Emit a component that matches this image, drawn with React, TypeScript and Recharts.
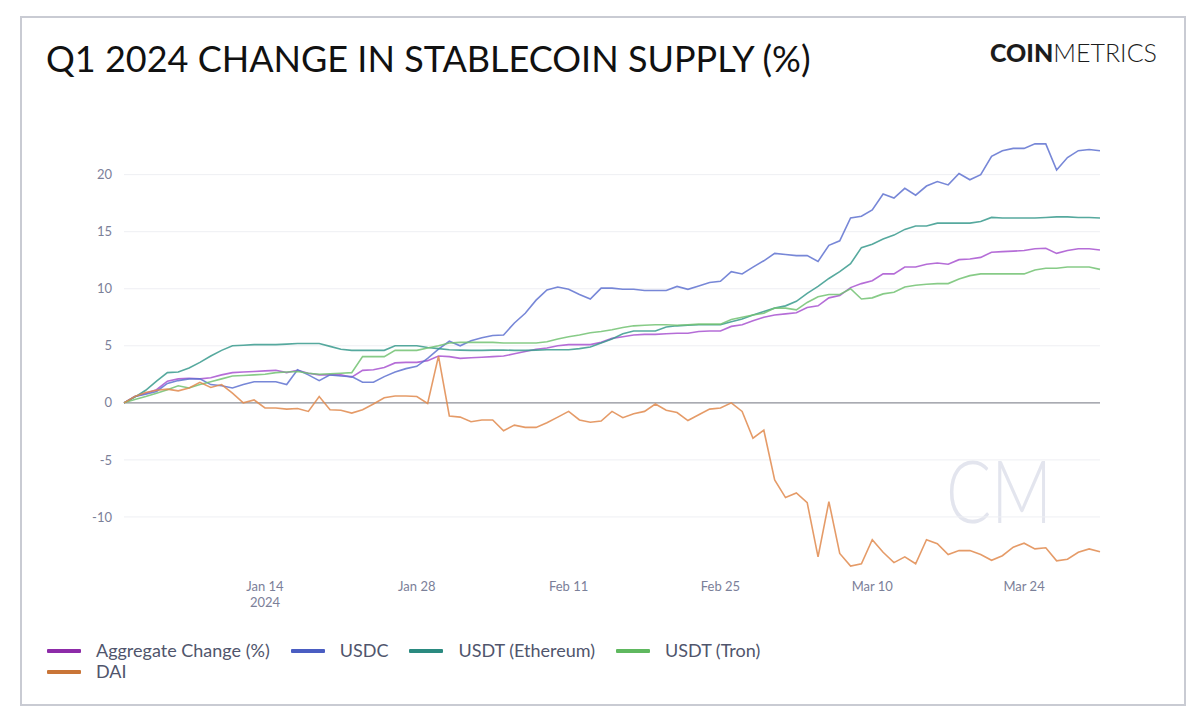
import React from "react";
import { LineChart, Line, XAxis, YAxis, ReferenceLine } from "recharts";

// Daily values, Jan 1 2024 (index 0) .. Mar 31 2024 (index 90)
const aggregateChange = [
  0, 0.55, 0.85, 1.15, 1.9, 2.1, 2.15, 2.1, 2.2, 2.45,
  2.65, 2.7, 2.75, 2.8, 2.85, 2.65, 2.85, 2.6, 2.45, 2.45,
  2.45, 2.25, 2.85, 2.9, 3.1, 3.5, 3.55, 3.55, 3.7, 4.1,
  4.05, 3.9, 3.95, 4.0, 4.05, 4.1, 4.3, 4.5, 4.7, 4.8,
  5.0, 5.1, 5.1, 5.1, 5.3, 5.65, 5.8, 5.95, 6.0, 6.0,
  6.05, 6.1, 6.1, 6.25, 6.3, 6.3, 6.7, 6.85, 7.2, 7.5,
  7.7, 7.8, 7.9, 8.35, 8.5, 9.2, 9.4, 10.1, 10.45, 10.7,
  11.3, 11.3, 11.9, 11.9, 12.15, 12.25, 12.15, 12.55, 12.6, 12.75,
  13.2, 13.25, 13.3, 13.35, 13.5, 13.55, 13.1, 13.35, 13.5, 13.5,
  13.4,
];

const usdc = [
  0, 0.55, 0.75, 1.0, 1.7, 1.95, 2.1, 2.1, 1.6, 1.5,
  1.3, 1.6, 1.85, 1.85, 1.85, 1.6, 2.9, 2.45, 1.95, 2.45,
  2.35, 2.3, 1.8, 1.8, 2.3, 2.7, 3.0, 3.2, 3.9, 4.7,
  5.4, 5.0, 5.45, 5.7, 5.9, 5.95, 7.0, 7.85, 9.0, 9.9,
  10.15, 9.95, 9.5, 9.1, 10.05, 10.05, 9.95, 9.95, 9.85, 9.85,
  9.85, 10.2, 9.95, 10.25, 10.55, 10.65, 11.5, 11.3, 11.9, 12.45,
  13.1, 13.0, 12.9, 12.9, 12.4, 13.8, 14.2, 16.2, 16.35, 16.9,
  18.3, 17.95, 18.8, 18.2, 19.0, 19.4, 19.1, 20.1, 19.55, 20.0,
  21.6, 22.1, 22.3, 22.3, 22.7, 22.7, 20.4, 21.5, 22.1, 22.2,
  22.1,
];

const usdtEthereum = [
  0, 0.5, 1.1, 1.9, 2.65, 2.7, 3.05, 3.55, 4.1, 4.6,
  5.0, 5.05, 5.1, 5.1, 5.1, 5.15, 5.2, 5.2, 5.2, 4.95,
  4.7, 4.6, 4.6, 4.6, 4.6, 5.0, 5.0, 5.0, 4.85, 4.75,
  4.65, 4.62, 4.6, 4.6, 4.62, 4.63, 4.6, 4.6, 4.62, 4.65,
  4.65, 4.65, 4.75, 4.9, 5.25, 5.6, 6.05, 6.3, 6.3, 6.3,
  6.65, 6.75, 6.8, 6.85, 6.85, 6.85, 7.1, 7.35, 7.7, 8.0,
  8.3, 8.5, 8.9, 9.6, 10.2, 10.9, 11.5, 12.2, 13.6, 13.9,
  14.35, 14.7, 15.2, 15.5, 15.5, 15.75, 15.75, 15.75, 15.75, 15.9,
  16.25, 16.2, 16.2, 16.2, 16.2, 16.25, 16.3, 16.3, 16.25, 16.25,
  16.2,
];

const usdtTron = [
  0, 0.3, 0.55, 0.85, 1.15, 1.5, 1.3, 1.6, 1.85, 2.1,
  2.35, 2.4, 2.45, 2.5, 2.65, 2.7, 2.75, 2.6, 2.5, 2.55,
  2.6, 2.65, 4.05, 4.05, 4.05, 4.6, 4.6, 4.6, 4.8, 5.0,
  5.25, 5.3, 5.3, 5.3, 5.3, 5.25, 5.25, 5.25, 5.25, 5.35,
  5.6, 5.8, 5.95, 6.15, 6.25, 6.4, 6.6, 6.75, 6.8, 6.85,
  6.85, 6.8, 6.85, 6.9, 6.9, 6.9, 7.3, 7.5, 7.7, 7.85,
  8.3, 8.3, 8.15, 8.8, 9.3, 9.5, 9.5, 10.0, 9.1, 9.2,
  9.55, 9.7, 10.15, 10.3, 10.4, 10.45, 10.45, 10.85, 11.15, 11.3,
  11.3, 11.3, 11.3, 11.3, 11.65, 11.8, 11.8, 11.9, 11.9, 11.9,
  11.7,
];

const dai = [
  0, 0.55, 0.9, 1.1, 1.2, 1.05, 1.3, 1.8, 1.35, 1.6,
  0.85, 0, 0.25, -0.45, -0.45, -0.55, -0.5, -0.75, 0.55, -0.6,
  -0.65, -0.9, -0.6, -0.1, 0.45, 0.6, 0.6, 0.55, -0.05, 4.1,
  -1.15, -1.25, -1.65, -1.5, -1.5, -2.45, -1.95, -2.15, -2.15, -1.75,
  -1.25, -0.75, -1.5, -1.7, -1.6, -0.75, -1.3, -0.95, -0.75, -0.1,
  -0.65, -0.85, -1.55, -1.05, -0.55, -0.45, 0, -0.75, -3.1, -2.4,
  -6.75, -8.3, -7.9, -8.75, -13.5, -8.65, -13.2, -14.3, -14.1, -12.0,
  -13.1, -14.0, -13.5, -14.1, -12.0, -12.35, -13.3, -12.95, -12.95, -13.3,
  -13.8, -13.4, -12.65, -12.3, -12.8, -12.7, -13.85, -13.7, -13.1, -12.8,
  -13.05,
];

const xTicks = [13, 27, 41, 55, 69, 83];
const xTickLabels = ["Jan 14", "Jan 28", "Feb 11", "Feb 25", "Mar 10", "Mar 24"];
const xYearLabel = "2024";
const yTicks = [-10, -5, 0, 5, 10, 15, 20];

const seriesNames = ["Aggregate Change (%)", "USDC", "USDT (Ethereum)", "USDT (Tron)", "DAI"];
const seriesKeys = ["aggregate", "usdc", "usdtEth", "usdtTron", "dai"];
const seriesValues = [aggregateChange, usdc, usdtEthereum, usdtTron, dai];
const lineColors = ["#a854d0", "#5f72d0", "#389a8d", "#72c272", "#e08a4e"];
const legendColors = ["#8d2ba8", "#4a5dc2", "#2a8a80", "#5fb85f", "#c97537"];

const rows = aggregateChange.map((_, i) => {
  const r: Record<string, number> = { day: i };
  seriesKeys.forEach((k, s) => {
    r[k] = seriesValues[s][i];
  });
  return r;
});

const FONT = "Lato, 'Noto Sans', sans-serif";

const XTick = (props: any) => {
  const { x, y, payload } = props;
  const idx = xTicks.indexOf(payload.value);
  return (
    <g>
      <text x={x} y={y + 16.5} textAnchor="middle" fill="#7b8099" fontSize={13} fontFamily={FONT}>
        {xTickLabels[idx]}
      </text>
      {idx === 0 && (
        <text x={x} y={y + 32.5} textAnchor="middle" fill="#7b8099" fontSize={13} fontFamily={FONT}>
          {xYearLabel}
        </text>
      )}
    </g>
  );
};

export default function App() {
  return (
    <div
      style={{
        position: "absolute",
        left: 0,
        top: 0,
        width: 1200,
        height: 722,
        background: "#ffffff",
        fontFamily: FONT,
        overflow: "hidden",
      }}
    >
      <div
        style={{
          position: "absolute",
          left: 20,
          top: 16,
          width: 1162,
          height: 686,
          border: "2px solid #c9cbd3",
          boxSizing: "content-box",
        }}
      />
      <div
        style={{
          position: "absolute",
          left: 46,
          top: 36,
          fontSize: 36,
          lineHeight: "44px",
          color: "#111",
          fontFamily: FONT,
          whiteSpace: "nowrap",
        }}
      >
        Q1 2024 CHANGE IN STABLECOIN SUPPLY (%)
      </div>
      <div
        style={{
          position: "absolute",
          left: 990,
          top: 37,
          fontSize: 25,
          lineHeight: "30px",
          color: "#1c1c1c",
          fontFamily: FONT,
          whiteSpace: "nowrap",
        }}
      >
        <span style={{ fontWeight: 900 }}>COIN</span>
        <span style={{ fontWeight: 300 }}>METRICS</span>
      </div>
      <svg style={{ position: "absolute", left: 0, top: 0 }} width={1200} height={722}>
        <text
          x={946}
          y={523}
          fontSize={86}
          fontWeight={300}
          fill="#e3e5ee"
          fontFamily={FONT}
          textLength={106}
          lengthAdjust="spacingAndGlyphs"
        >
          CM
        </text>
      </svg>
      <div style={{ position: "absolute", left: 0, top: 0 }}>
        <LineChart
          width={1200}
          height={722}
          data={rows}
          margin={{ top: 129, right: 100, bottom: 108, left: 64 }}
        >
          <XAxis
            dataKey="day"
            type="number"
            domain={[0, 90]}
            ticks={xTicks}
            tick={<XTick />}
            tickLine={false}
            axisLine={false}
            tickSize={0}
            tickMargin={0}
            height={40}
            interval={0}
          />
          <YAxis
            type="number"
            domain={[-15, 24]}
            ticks={yTicks}
            tickLine={false}
            axisLine={false}
            tickSize={0}
            tickMargin={12}
            width={60}
            interval={0}
            allowDataOverflow
            tick={{ fill: "#7b8099", fontSize: 13, fontFamily: FONT }}
          />
          {yTicks
            .filter((v) => v !== 0)
            .map((v) => (
              <ReferenceLine key={v} y={v} stroke="#eeeff3" strokeWidth={1} />
            ))}
          <ReferenceLine y={0} stroke="#8d8f98" strokeWidth={1.2} />
          {seriesKeys.map((k, i) => (
            <Line
              key={k}
              type="linear"
              dataKey={k}
              name={seriesNames[i]}
              stroke={lineColors[i]}
              strokeOpacity={0.85}
              strokeWidth={1.6}
              dot={false}
              activeDot={false}
              isAnimationActive={false}
            />
          ))}
        </LineChart>
      </div>
      <div
        style={{
          position: "absolute",
          left: 47,
          top: 640,
          width: 800,
          display: "flex",
          flexWrap: "wrap",
          rowGap: 0,
          fontSize: 18,
          lineHeight: "21px",
          color: "#50556c",
          fontFamily: FONT,
        }}
      >
        {seriesNames.map((n, i) => (
          <div key={n} style={{ display: "flex", alignItems: "center", marginRight: 21, whiteSpace: "nowrap" }}>
            <span
              style={{
                display: "inline-block",
                width: 34,
                height: 4,
                borderRadius: 1,
                background: legendColors[i],
                marginRight: 15,
              }}
            />
            <span>{n}</span>
          </div>
        ))}
      </div>
    </div>
  );
}
